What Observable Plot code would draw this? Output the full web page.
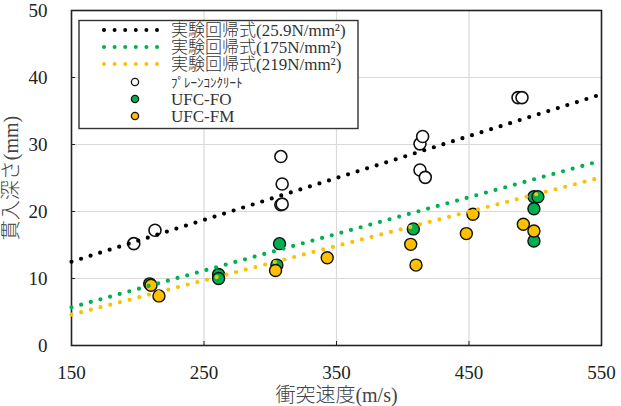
<!DOCTYPE html>
<html>
<head>
<meta charset="utf-8">
<script src="https://cdn.jsdelivr.net/npm/d3@7"></script>
<script src="https://cdn.jsdelivr.net/npm/@observablehq/plot@0.6"></script>
<style>
  html, body { margin: 0; padding: 0; background: #fff; }
</style>
</head>
<body>
<div id="chart"></div>
<script>
// ---- data ----
const xTicks = [150, 250, 350, 450, 550];
const yTicks = [0, 10, 20, 30, 40, 50];

const plainX = [197, 213, 308, 309, 308, 309, 413, 415, 413, 417, 487, 490];
const plainY = [15.2, 17.2, 28.2, 24.1, 21.0, 21.1, 30.1, 31.2, 26.2, 25.1, 37.0, 37.0];

const foX = [209, 261, 261, 305, 307, 408, 499, 502, 499, 499];
const foY = [9.2, 10.6, 10.0, 12.0, 15.2, 17.4, 22.2, 22.2, 20.4, 15.6];

const fmX = [210, 216, 304, 343, 406, 410, 448, 453, 491, 499];
const fmY = [9.0, 7.4, 11.2, 13.1, 15.1, 12.0, 16.7, 19.6, 18.1, 17.1];

const fitX = [150, 550];
const fitPlain = [12.5, 37.5];
const fitFO = [5.7, 27.6];
const fitFM = [4.6, 25.1];

const legendLabels = ["実験回帰式(25.9N/mm²)", "実験回帰式(175N/mm²)", "実験回帰式(219N/mm²)", "ﾌﾟﾚｰﾝｺﾝｸﾘｰﾄ", "UFC-FO", "UFC-FM"];
const xLabel = "衝突速度(m/s)";
const yLabel = "貫入深さ(mm)";

const GREEN = "#00B050";
const ORANGE = "#FFC000";

const pts = (xs, ys) => xs.map((x, i) => ({x, y: ys[i]}));
const plain = pts(plainX, plainY);
const fo = pts(foX, foY);
const fm = pts(fmX, fmY);
const linePlain = pts(fitX, fitPlain);
const lineFO = pts(fitX, fitFO);
const lineFM = pts(fitX, fitFM);

const dotted = {strokeWidth: 4.2, strokeDasharray: "0 10", strokeLinecap: "round"};

const chart = Plot.plot({
  width: 621,
  height: 406,
  marginLeft: 71,
  marginRight: 20,
  marginTop: 10,
  marginBottom: 61,
  style: {fontFamily: "'Liberation Serif', 'Noto Sans CJK JP', serif", fontSize: "19px", background: "#fff", color: "#222"},
  x: {domain: [150, 550]},
  y: {domain: [0, 50]},
  marks: [
    Plot.gridX([250, 350, 450], {stroke: "#d9d9d9", strokeOpacity: 1, strokeWidth: 1.2}),
    Plot.gridY([10, 20, 30, 40], {stroke: "#d9d9d9", strokeOpacity: 1, strokeWidth: 1.2}),
    Plot.axisX({ticks: xTicks, tickSize: -4, tickPadding: 23.5, label: null, stroke: "#222", fontSize: 19}),
    Plot.axisY({ticks: yTicks, tickSize: -4, tickPadding: 28, label: null, stroke: "#222", fontSize: 19}),
    Plot.frame({stroke: "#222", strokeWidth: 1.6}),
    Plot.dot(plain, {x: "x", y: "y", r: 6, fill: "#fff", stroke: "#111", strokeWidth: 1.6}),
    Plot.dot(fo, {x: "x", y: "y", r: 6, fill: GREEN, stroke: "#111", strokeWidth: 1.4}),
    Plot.dot(fm, {x: "x", y: "y", r: 6, fill: ORANGE, stroke: "#111", strokeWidth: 1.4}),
    Plot.line(linePlain, {x: "x", y: "y", stroke: "#000", ...dotted}),
    Plot.line(lineFO, {x: "x", y: "y", stroke: GREEN, ...dotted}),
    Plot.line(lineFM, {x: "x", y: "y", stroke: ORANGE, ...dotted}),
    Plot.text([xLabel], {frameAnchor: "bottom", dy: 50, lineAnchor: "middle", textAnchor: "middle", fontSize: 20, fontWeight: 300, fill: "#444"}),
    Plot.text([yLabel], {frameAnchor: "left", dx: -60, rotate: -90, lineAnchor: "middle", textAnchor: "middle", fontSize: 20, fontWeight: 300, fill: "#444"})
  ]
});

document.getElementById("chart").appendChild(chart);

// ---- legend (inside plot area) ----
const svg = d3.select(chart);
const lg = svg.append("g")
  .attr("font-family", "'Liberation Serif', 'Noto Sans CJK JP', serif")
  .attr("font-size", 17)
  .style("text-anchor", "start");
lg.append("rect").attr("x", 79).attr("y", 20.5).attr("width", 279).attr("height", 108)
  .attr("fill", "#fff").attr("stroke", "#333").attr("stroke-width", 1.4);
const rowY = [30, 47, 64, 82, 99, 116];
const lineColors = ["#000", GREEN, ORANGE];
lineColors.forEach((c, i) => {
  lg.append("line").attr("x1", 104).attr("x2", 158).attr("y1", rowY[i]).attr("y2", rowY[i])
    .attr("stroke", c).attr("stroke-width", 4).attr("stroke-dasharray", "0 10.6").attr("stroke-linecap", "round");
});
const dotFills = ["#fff", GREEN, ORANGE];
dotFills.forEach((c, i) => {
  lg.append("circle").attr("cx", 135).attr("cy", rowY[i + 3]).attr("r", 3.6)
    .attr("fill", c).attr("stroke", "#111").attr("stroke-width", 1.3);
});
legendLabels.forEach((t, i) => {
  lg.append("text").attr("x", 171).attr("y", rowY[i]).attr("dy", "0.35em")
    .style("text-anchor", "start")
    .attr("font-weight", i < 3 ? 300 : 400)
    .attr("fill", "#333").attr("font-size", i === 3 ? 13 : 17).text(t);
});
</script>
</body>
</html>
